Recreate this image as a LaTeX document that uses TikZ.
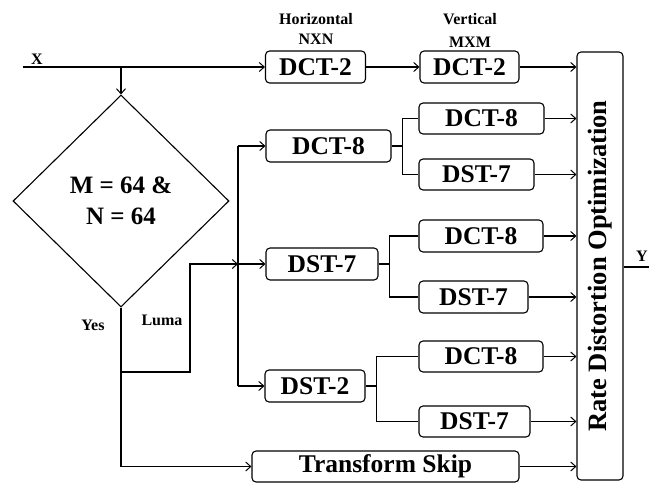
\documentclass[tikz,border=0pt]{standalone}
\usepackage{fontspec}
\setmainfont{Liberation Serif}
\usetikzlibrary{arrows.meta,shapes.geometric}
\begin{document}
\begin{tikzpicture}[x=1pt,y=-1pt,
  font=\bfseries,
  every path/.style={line width=1.1pt},
  arr/.style={-{Straight Barb[length=5pt,width=9pt,line width=1pt]}},
  tbox/.style={draw,rounded corners=4pt,inner sep=0pt,line width=1.1pt,font=\fontsize{25.5}{27}\selectfont\bfseries},
  lab/.style={inner sep=0pt,font=\fontsize{16}{18}\selectfont\bfseries},
  fork/.style={line width=1.6pt}]
\useasboundingbox (0,0) rectangle (649,483);
% boxes
\node[tbox,minimum width=100pt,minimum height=32pt] (h) at (315.5,67) {DCT-2};
\node[tbox,minimum width=99pt,minimum height=32pt] (v) at (469.5,67) {DCT-2};
\node[tbox,minimum width=46pt,minimum height=428pt] (rdo) at (600,266) {};
\node[inner sep=0pt,rotate=90,font=\fontsize{26.5}{28}\selectfont\bfseries] (rdot) at (rdo.center) {Rate Distortion Optimization};
\node[tbox,minimum width=125pt,minimum height=32pt] (dct8) at (328.5,146) {DCT-8};
\node[tbox,minimum width=112pt,minimum height=32pt] (dst7) at (322,264) {DST-7};
\node[tbox,minimum width=100pt,minimum height=32pt] (dst2) at (315,386) {DST-2};
\node[tbox,minimum width=125pt,minimum height=31pt] (s1a) at (481.5,118.5) {DCT-8};
\node[tbox,minimum width=115pt,minimum height=31pt] (s1b) at (476.5,174.5) {DST-7};
\node[tbox,minimum width=124pt,minimum height=32pt] (s2a) at (481,236) {DCT-8};
\node[tbox,minimum width=109pt,minimum height=32pt] (s2b) at (473.5,297) {DST-7};
\node[tbox,minimum width=124pt,minimum height=31pt] (s3a) at (481,356.5) {DCT-8};
\node[tbox,minimum width=111pt,minimum height=31pt] (s3b) at (474.5,421.5) {DST-7};
\node[tbox,minimum width=267pt,minimum height=31pt] (ts) at (385.5,466.5) {Transform Skip};
\node[draw,diamond,minimum width=216pt,minimum height=212pt,inner sep=0pt,line width=1.1pt,
  align=center,font=\fontsize{25}{31}\selectfont\bfseries] (dia) at (121,201) {M = 64 \&\\N = 64};
% labels
\node[lab] (lx) at (37,59) {X};
\node[lab] (lh1) at (316,19) {Horizontal};
\node[lab] (lh2) at (316,39) {NXN};
\node[lab] (lv1) at (470,19) {Vertical};
\node[lab] (lv2) at (470,42) {MXM};
\node[lab] (lyes) at (93,325) {Yes};
\node[lab] (lluma) at (162,320) {Luma};
\node[lab] (ly) at (642,256) {Y};
% coordinates
\coordinate (xin) at (23,67);
\coordinate (br) at (121,67);
\coordinate (vl1) at (238,146);
\coordinate (vl2) at (238,264);
\coordinate (vl3) at (238,386);
\coordinate (lu1) at (121,372);
\coordinate (lu2) at (190,372);
\coordinate (lu3) at (190,264);
\coordinate (yes1) at (121,466.5);
\coordinate (yout) at (649,267);
% connectors
\draw[arr] (xin) -- (h.west);
\draw[arr] (br) -- (dia.north);
\draw[arr] (h.east) -- (v.west);
\draw[arr] (v.east) -- (v.east -| rdo.west);
\draw (vl1) -- (vl3);
\draw[arr] (vl1) -- (dct8.west);
\draw[arr] (vl2) -- (dst7.west);
\draw[arr] (vl3) -- (dst2.west);
\draw[arr,line width=1.4pt] (lu1) -- (lu2) -- (lu3) -- (vl2);
\draw[arr,line width=1.4pt] (dia.south) -- (yes1) -- (ts.west);
\draw[fork] (dct8.east) -- ++(11,0) coordinate (f1);
\draw[fork] (s1a.west) -| (f1) |- (s1b.west);
\draw[fork] (dst7.east) -- ++(11,0) coordinate (f2);
\draw[fork] (s2a.west) -| (f2) |- (s2b.west);
\draw[fork] (dst2.east) -- ++(11,0) coordinate (f3);
\draw[fork] (s3a.west) -| (f3) |- (s3b.west);
\foreach \n in {s1a,s1b,s2a,s2b,s3a,s3b,ts}{
  \draw[arr] (\n.east) -- (\n.east -| rdo.west);
}
\draw (rdo.east |- yout) -- (yout);
\end{tikzpicture}
\end{document}
